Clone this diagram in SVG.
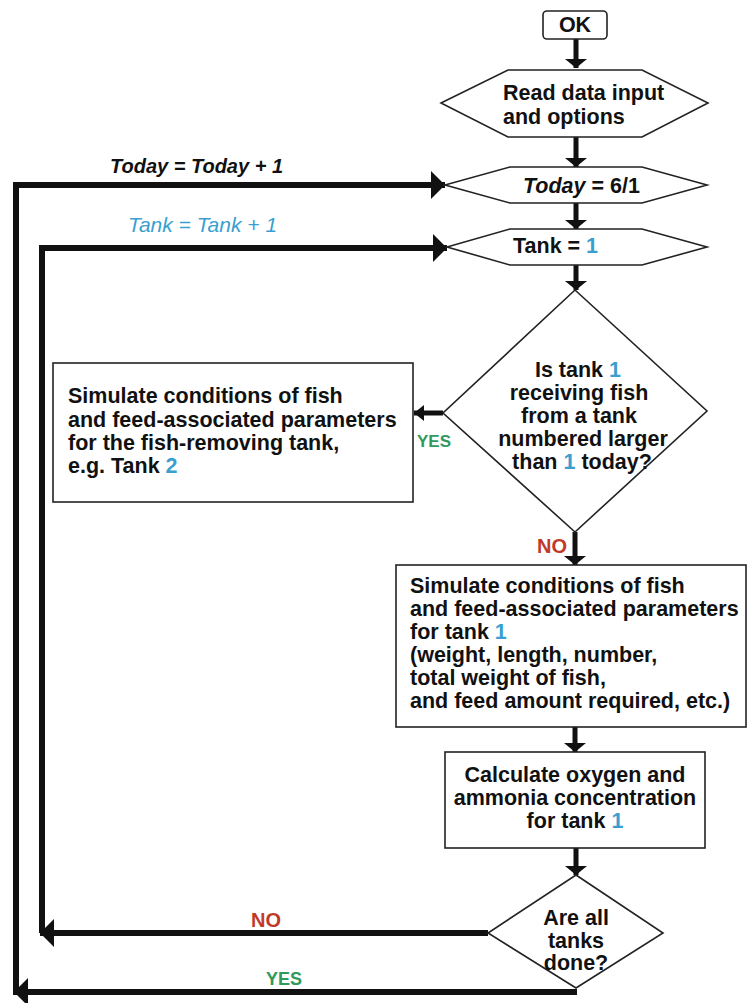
<svg xmlns="http://www.w3.org/2000/svg" width="748" height="1003" viewBox="0 0 748 1003">
<defs>
<style>
text{font-family:"Liberation Sans",Arial,sans-serif;font-weight:bold;font-size:21.5px;fill:#111}
.c{text-anchor:middle}
.b{fill:#3a9fd0}
.shape{fill:#fff;stroke:#222;stroke-width:1.6}
.flow{fill:none;stroke:#111;stroke-width:5}
.loop{fill:none;stroke:#111;stroke-width:6}
.yes{fill:#2f9a5c;font-size:17px}
.no{fill:#c0392b;font-size:20px}
</style>
<marker id="av" markerUnits="userSpaceOnUse" markerWidth="10" markerHeight="22" viewBox="0 0 10 22" refX="9" refY="11" orient="auto">
<path d="M0,0 L9,11 L0,22 z" fill="#111"/>
</marker>
<marker id="ab" markerUnits="userSpaceOnUse" markerWidth="15" markerHeight="28" viewBox="0 0 15 28" refX="14" refY="14" orient="auto">
<path d="M0,0 L14,14 L0,28 z" fill="#111"/>
</marker>
<marker id="as" markerUnits="userSpaceOnUse" markerWidth="11" markerHeight="16" viewBox="0 0 11 16" refX="10" refY="8" orient="auto">
<path d="M0,0 L10,8 L0,16 z" fill="#111"/>
</marker>
</defs>
<rect width="748" height="1003" fill="#fff"/>

<g id="connectors">
<line class="flow" x1="576" y1="39" x2="576" y2="68" marker-end="url(#av)"/>
<line class="flow" x1="576" y1="137" x2="576" y2="167" marker-end="url(#av)"/>
<line class="flow" x1="576" y1="203" x2="576" y2="229" marker-end="url(#av)"/>
<line class="flow" x1="576" y1="265" x2="576" y2="290" marker-end="url(#av)"/>
<line class="flow" x1="443" y1="413" x2="414" y2="413" marker-end="url(#as)"/>
<line class="flow" x1="575" y1="532" x2="575" y2="565" marker-end="url(#av)"/>
<line class="flow" x1="575" y1="727" x2="575" y2="752" marker-end="url(#av)"/>
<line class="flow" x1="576" y1="848" x2="576" y2="875" marker-end="url(#av)"/>
<line class="loop" x1="488" y1="933" x2="40" y2="933" marker-end="url(#ab)"/>
<path class="loop" d="M42,933 V248 H447" marker-end="url(#ab)"/>
<line class="loop" x1="577" y1="992" x2="14" y2="992" marker-end="url(#ab)"/>
<path class="loop" d="M16,995 V185 H445" marker-end="url(#ab)"/>
<text x="110" y="173" font-style="italic" style="font-size:20px">Today = Today + 1</text>
<text x="128" y="232" font-style="italic" style="font-weight:normal;font-size:21px;fill:#3a9fd0">Tank = Tank + 1</text>
<text class="yes" x="417" y="447">YES</text>
<text class="no" x="537" y="553">NO</text>
<text class="no" x="251" y="927">NO</text>
<text class="yes" x="266" y="985" style="font-size:18px">YES</text>
</g>

<g id="start">
<rect class="shape" x="543" y="11" width="64" height="28" rx="4"/>
<text class="c" x="575" y="32">OK</text>
</g>

<g id="read-input">
<polygon class="shape" points="441,103 508,70 642,70 708,103 642,137 508,137"/>
<text x="503" y="100">Read data input</text>
<text x="503" y="124">and options</text>
</g>

<g id="today-init">
<polygon class="shape" points="445,185 510,167 642,167 707,185 642,203 510,203"/>
<text x="523" y="193"><tspan font-style="italic">Today</tspan> = 6/1</text>
</g>

<g id="tank-init">
<polygon class="shape" points="447,247 510,229 642,229 707,247 642,265 510,265"/>
<text x="513" y="253">Tank = <tspan class="b">1</tspan></text>
</g>

<g id="decision-receiving">
<polygon class="shape" points="575,290 707,411 575,532 443,413"/>
<text class="c" x="578" y="377">Is tank <tspan class="b">1</tspan></text>
<text class="c" x="579" y="400">receiving fish</text>
<text class="c" x="579" y="423">from a tank</text>
<text class="c" x="583" y="446">numbered larger</text>
<text class="c" x="582" y="469">than <tspan class="b">1</tspan> today?</text>
</g>

<g id="simulate-removing">
<rect class="shape" x="53" y="363" width="360" height="139"/>
<text x="68" y="403">Simulate conditions of fish</text>
<text x="68" y="427">and feed-associated parameters</text>
<text x="68" y="450">for the fish-removing tank,</text>
<text x="68" y="473">e.g. Tank <tspan class="b">2</tspan></text>
</g>

<g id="simulate-tank">
<rect class="shape" x="396" y="565" width="350" height="162"/>
<text x="410" y="593">Simulate conditions of fish</text>
<text x="410" y="616">and feed-associated parameters</text>
<text x="410" y="639">for tank <tspan class="b">1</tspan></text>
<text x="410" y="662">(weight, length, number,</text>
<text x="410" y="685">total weight of fish,</text>
<text x="410" y="708">and feed amount required, etc.)</text>
</g>

<g id="calc-oxygen">
<rect class="shape" x="445" y="752" width="260" height="96"/>
<text class="c" x="575" y="782">Calculate oxygen and</text>
<text class="c" x="575" y="805">ammonia concentration</text>
<text class="c" x="575" y="828">for tank <tspan class="b">1</tspan></text>
</g>

<g id="decision-done">
<polygon class="shape" points="576,875 663,933 576,988 488,933"/>
<text class="c" x="576" y="925">Are all</text>
<text class="c" x="576" y="948">tanks</text>
<text class="c" x="576" y="970">done?</text>
</g>
</svg>
